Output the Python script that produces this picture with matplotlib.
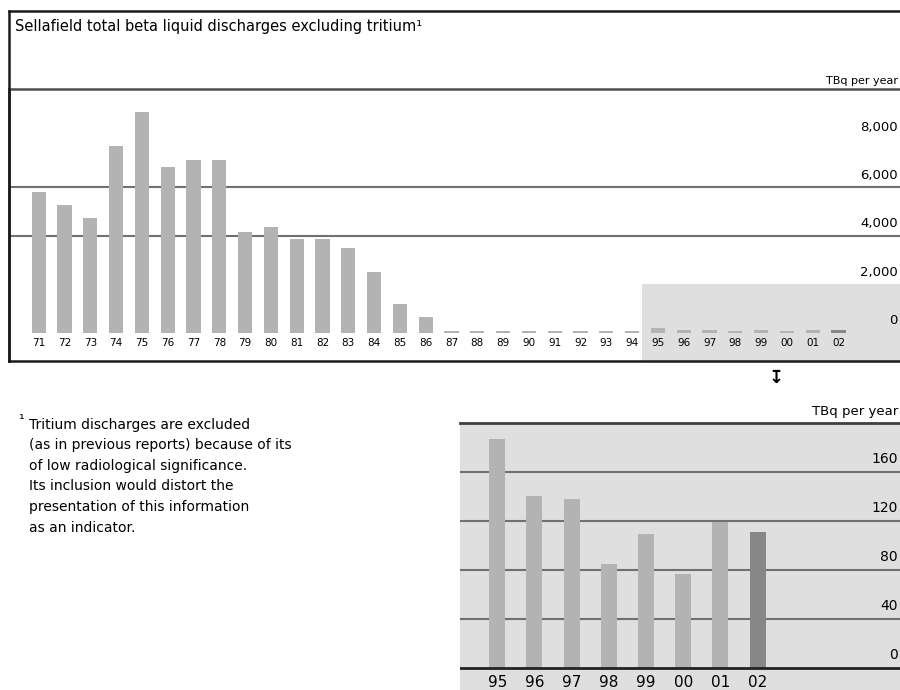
import matplotlib
matplotlib.use("Agg")
import matplotlib.pyplot as plt
from matplotlib.lines import Line2D
from matplotlib.patches import Rectangle

# Data (TBq per year)
years = ["71", "72", "73", "74", "75", "76", "77", "78", "79", "80", "81",
         "82", "83", "84", "85", "86", "87", "88", "89", "90", "91", "92",
         "93", "94", "95", "96", "97", "98", "99", "00", "01", "02"]
discharges = [5830, 5280, 4730, 7710, 9130, 6830, 7150, 7150, 4180, 4380,
              3860, 3860, 3520, 2530, 1210, 660, 75, 70, 70, 70, 70, 70,
              70, 75, 187, 140, 138, 85, 109, 77, 119, 111]

recent_years = ["95", "96", "97", "98", "99", "00", "01", "02"]
recent_discharges = [187, 140, 138, 85, 109, 77, 119, 111]

top_ticks = [0, 2000, 4000, 6000, 8000]
top_tick_labels = ["0", "2,000", "4,000", "6,000", "8,000"]
top_grid = [4000, 6000]
bottom_ticks = [0, 40, 80, 120, 160]
bottom_grid = [40, 80, 120, 160]

title = "Sellafield total beta liquid discharges excluding tritium\u00b9"
footnote = [
    "Tritium discharges are excluded",
    "(as in previous reports) because of its",
    "of low radiological significance.",
    "Its inclusion would distort the",
    "presentation of this information",
    "as an indicator.",
]

W, H = 900, 690
BAR = "#b3b3b3"
BAR_LAST = "#878787"
SHADE = "#dfdfdf"
GRID = "#707070"

plt.rcParams["font.family"] = ["DejaVu Sans"]
fig = plt.figure(figsize=(W / 100, H / 100), dpi=100)


def px_axes(left, top, right, bottom):
    # axes placed by pixel edges of the 900x690 canvas
    return fig.add_axes([left / W, 1 - bottom / H, (right - left) / W, (bottom - top) / H])


def fx(x):
    return x / W


def fy(y):
    return 1 - y / H


# ---- outer frame and title ----
fig.add_artist(Line2D([fx(9), fx(900)], [fy(11), fy(11)], color="#1a1a1a", lw=1.8))
fig.add_artist(Line2D([fx(9), fx(9)], [fy(11), fy(361)], color="#1a1a1a", lw=1.8))
fig.text(fx(15), fy(26), title, fontsize=10.5, va="center", ha="left")
fig.text(fx(898), fy(81), "TBq per year", fontsize=8, va="center", ha="right")

# ---- top chart: 1971-2002 ----
ax = px_axes(9, 89, 900, 361)
ax.set_xlim(-1.15, 33.38)
ax.set_ylim(-1155, 10062)
ax.set_facecolor("none")
ax.spines["right"].set_visible(False)
ax.spines["left"].set_color("#1a1a1a")
ax.spines["left"].set_linewidth(1.8)
ax.spines["bottom"].set_color("#1a1a1a")
ax.spines["bottom"].set_linewidth(1.8)
ax.spines["top"].set_color("#505050")
ax.spines["top"].set_linewidth(1.8)
ax.set_xticks([])
ax.set_yticks([])

x = list(range(len(years)))
start = years.index("95") - 0.6
ax.add_patch(Rectangle((start, ax.get_ylim()[0]), 40, 2000 - ax.get_ylim()[0],
                       facecolor=SHADE, edgecolor="none", zorder=0))
for g in top_grid:
    ax.axhline(g, color=GRID, lw=1.5, zorder=1)

colors = [BAR] * (len(years) - 1) + [BAR_LAST]
ax.bar(x, discharges, width=0.55, color=colors, zorder=2)

for i, lab in zip(x, years):
    ax.annotate(lab, (i, 0), xytext=(0, -10), textcoords="offset pixels",
                ha="center", va="center", fontsize=7.5,
                family=["Liberation Sans Narrow", "DejaVu Sans"])

for v, lab in zip(top_ticks, top_tick_labels):
    ax.annotate(lab, (1.0, v), xycoords=ax.get_yaxis_transform(),
                xytext=(-2, 12), textcoords="offset pixels",
                ha="right", va="center", fontsize=9.5)

# arrow pointing down to the detail chart
fig.text(fx(776), fy(378), "\u21a7", fontsize=13, ha="center", va="center",
         fontweight="bold")

# ---- footnote ----
fig.text(fx(18), fy(420), "\u00b9", fontsize=10, ha="left", va="center")
for k, line in enumerate(footnote):
    fig.text(fx(29), fy(425 + 20.5 * k), line, fontsize=10, ha="left", va="center")

# ---- bottom chart: 1995-2002 detail ----
fig.text(fx(898), fy(412), "TBq per year", fontsize=9.5, va="center", ha="right")
ax2 = px_axes(460, 423, 900, 690)
ax2.set_xlim(-1.0, 10.83)
ax2.set_ylim(-18, 200)
ax2.set_facecolor(SHADE)
for s in ["left", "right", "bottom"]:
    ax2.spines[s].set_visible(False)
ax2.spines["top"].set_color("#404040")
ax2.spines["top"].set_linewidth(2)
ax2.set_xticks([])
ax2.set_yticks([])

for g in bottom_grid:
    ax2.axhline(g, color=GRID, lw=1.5, zorder=1)
ax2.axhline(0, color="#222222", lw=2, zorder=3)

x2 = list(range(len(recent_years)))
colors2 = [BAR] * (len(recent_years) - 1) + [BAR_LAST]
ax2.bar(x2, recent_discharges, width=0.43, color=colors2, zorder=2)

for i, lab in zip(x2, recent_years):
    ax2.annotate(lab, (i, 0), xytext=(0, -15), textcoords="offset pixels",
                 ha="center", va="center", fontsize=11)

for v in bottom_ticks:
    ax2.annotate(str(v), (1.0, v), xycoords=ax2.get_yaxis_transform(),
                 xytext=(-2, 13), textcoords="offset pixels",
                 ha="right", va="center", fontsize=10)

fig.savefig("out.png", dpi=100)
